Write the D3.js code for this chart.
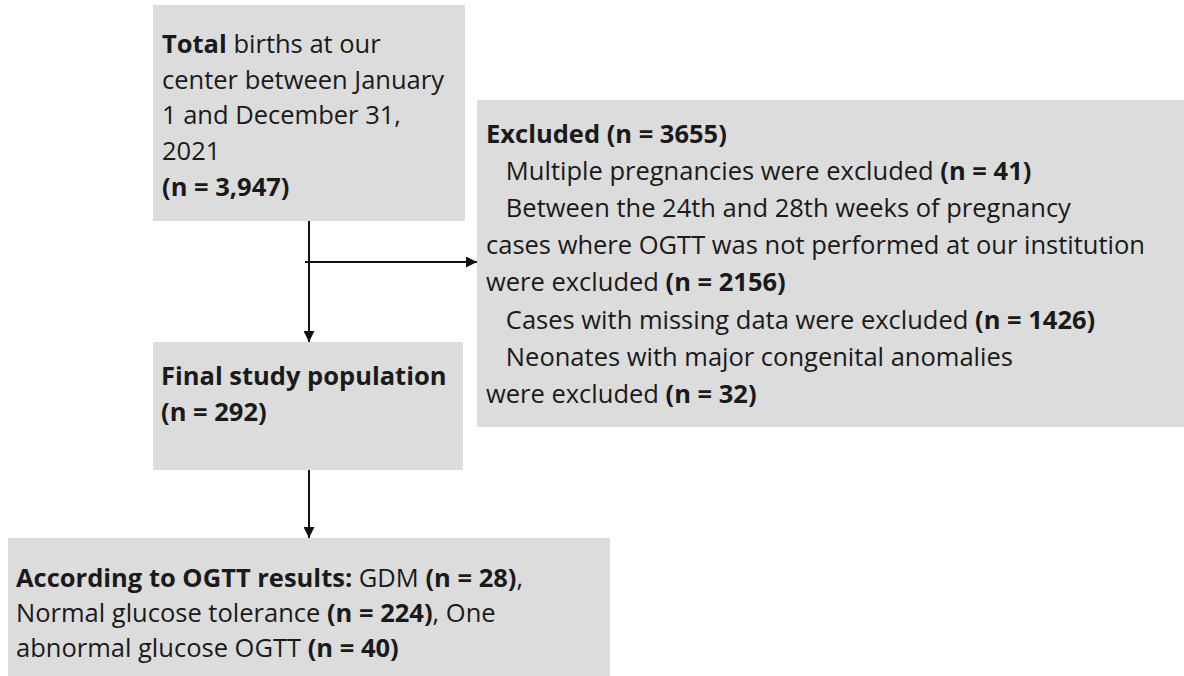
<!DOCTYPE html>
<html>
<head>
<meta charset="utf-8">
<script src="https://cdn.jsdelivr.net/npm/d3@7"></script>
<style>
  body { margin: 0; background: #fff; }
  svg { display: block; }
</style>
</head>
<body>
<div id="chart"></div>
<script>
// box contents: each line is a list of [text, bold] pieces
const totalLines = [
  [["Total", true], [" births at our", false]],
  [["center between January", false]],
  [["1 and December 31,", false]],
  [["2021", false]],
  [["(n = 3,947)", true]]
];
const excludedLines = [
  [["Excluded (n = 3655)", true]],
  [["   Multiple pregnancies were excluded ", false], ["(n = 41)", true]],
  [["   Between the 24th and 28th weeks of pregnancy", false]],
  [["cases where OGTT was not performed at our institution", false]],
  [["were excluded ", false], ["(n = 2156)", true]],
  [["   Cases with missing data were excluded ", false], ["(n = 1426)", true]],
  [["   Neonates with major congenital anomalies", false]],
  [["were excluded ", false], ["(n = 32)", true]]
];
const finalLines = [
  [["Final study population", true]],
  [["(n = 292)", true]]
];
const resultLines = [
  [["According to OGTT results: ", true], ["GDM ", false], ["(n = 28)", true], [",", false]],
  [["Normal glucose tolerance ", false], ["(n = 224)", true], [", One", false]],
  [["abnormal glucose OGTT ", false], ["(n = 40)", true]]
];

const width = 1184, height = 676;
const svg = d3.select("#chart").append("svg")
  .attr("width", width)
  .attr("height", height);

svg.append("defs").append("marker")
  .attr("id", "arrow")
  .attr("viewBox", "0 0 10 10")
  .attr("refX", 10).attr("refY", 5)
  .attr("markerWidth", 11).attr("markerHeight", 11)
  .attr("markerUnits", "userSpaceOnUse")
  .attr("orient", "auto")
  .append("path")
  .attr("d", "M0,0 L10,5 L0,10 Z")
  .attr("fill", "#111");

const boxes = [
  { x: 153, y: 5, w: 312, h: 216, lines: totalLines, tx: 162, ty: 53, lh: 35.7 },
  { x: 477, y: 100, w: 712, h: 327, lines: excludedLines, tx: 486, ty: 143, lh: 37.1 },
  { x: 153, y: 342, w: 310, h: 128, lines: finalLines, tx: 161, ty: 385, lh: 35.5 },
  { x: 8, y: 538, w: 602, h: 145, lines: resultLines, tx: 16, ty: 587, lh: 35 }
];

const g = svg.selectAll("g.box")
  .data(boxes)
  .join("g")
  .attr("class", "box");

g.append("rect")
  .attr("x", d => d.x)
  .attr("y", d => d.y)
  .attr("width", d => d.w)
  .attr("height", d => d.h)
  .attr("fill", "#dcdcdc");

g.each(function(b) {
  const t = d3.select(this).append("text")
    .style("font-family", "'Open Sans', Lato, sans-serif")
    .style("font-size", "25.5px")
    .attr("fill", "#1a1a1a")
    .attr("xml:space", "preserve");
  b.lines.forEach((line, i) => {
    line.forEach((piece, j) => {
      const ts = t.append("tspan")
        .text(piece[0])
        .style("font-weight", piece[1] ? "700" : "400");
      if (j === 0) ts.attr("x", b.tx).attr("y", b.ty + i * b.lh);
    });
  });
});

// connectors
const arrows = [
  [[309, 221], [309, 342]],
  [[305, 262], [477, 262]],
  [[309, 470], [309, 538]]
];
svg.selectAll("line.arrow")
  .data(arrows)
  .join("line")
  .attr("class", "arrow")
  .attr("x1", d => d[0][0]).attr("y1", d => d[0][1])
  .attr("x2", d => d[1][0]).attr("y2", d => d[1][1])
  .attr("stroke", "#111")
  .attr("stroke-width", 2)
  .attr("marker-end", "url(#arrow)");
</script>
</body>
</html>
